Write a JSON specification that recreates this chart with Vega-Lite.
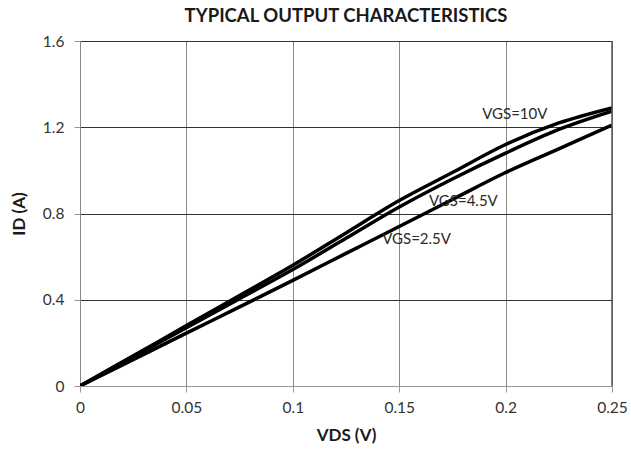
{
  "$schema": "https://vega.github.io/schema/vega-lite/v6.json",
  "width": 532,
  "height": 345,
  "autosize": "none",
  "padding": {"left": 80, "top": 41, "right": 19, "bottom": 75},
  "background": "white",
  "title": {"text": "TYPICAL OUTPUT CHARACTERISTICS", "font": "Lato", "fontSize": 18.5, "fontWeight": "bold", "color": "#1a1a1a", "anchor": "middle", "offset": 9},
  "config": {
    "view": {"stroke": null},
    "axis": {"labelFont": "Lato", "labelFontSize": 15.5, "labelColor": "#333333", "titleFont": "Lato", "titleFontSize": 17, "titleFontWeight": "bold", "titleColor": "#1a1a1a"}
  },
  "datasets": {
    "curves": [
      {"vds": 0, "id": 0, "s": "VGS=10V"},
      {"vds": 0.025, "id": 0.14, "s": "VGS=10V"},
      {"vds": 0.05, "id": 0.28, "s": "VGS=10V"},
      {"vds": 0.075, "id": 0.42, "s": "VGS=10V"},
      {"vds": 0.1, "id": 0.56, "s": "VGS=10V"},
      {"vds": 0.125, "id": 0.71, "s": "VGS=10V"},
      {"vds": 0.15, "id": 0.86, "s": "VGS=10V"},
      {"vds": 0.175, "id": 0.99, "s": "VGS=10V"},
      {"vds": 0.2, "id": 1.12, "s": "VGS=10V"},
      {"vds": 0.225, "id": 1.22, "s": "VGS=10V"},
      {"vds": 0.25, "id": 1.29, "s": "VGS=10V"},
      {"vds": 0, "id": 0, "s": "VGS=4.5V"},
      {"vds": 0.025, "id": 0.135, "s": "VGS=4.5V"},
      {"vds": 0.05, "id": 0.27, "s": "VGS=4.5V"},
      {"vds": 0.075, "id": 0.405, "s": "VGS=4.5V"},
      {"vds": 0.1, "id": 0.54, "s": "VGS=4.5V"},
      {"vds": 0.125, "id": 0.685, "s": "VGS=4.5V"},
      {"vds": 0.15, "id": 0.83, "s": "VGS=4.5V"},
      {"vds": 0.175, "id": 0.96, "s": "VGS=4.5V"},
      {"vds": 0.2, "id": 1.08, "s": "VGS=4.5V"},
      {"vds": 0.225, "id": 1.19, "s": "VGS=4.5V"},
      {"vds": 0.25, "id": 1.275, "s": "VGS=4.5V"},
      {"vds": 0, "id": 0, "s": "VGS=2.5V"},
      {"vds": 0.025, "id": 0.122, "s": "VGS=2.5V"},
      {"vds": 0.05, "id": 0.245, "s": "VGS=2.5V"},
      {"vds": 0.075, "id": 0.367, "s": "VGS=2.5V"},
      {"vds": 0.1, "id": 0.49, "s": "VGS=2.5V"},
      {"vds": 0.125, "id": 0.615, "s": "VGS=2.5V"},
      {"vds": 0.15, "id": 0.74, "s": "VGS=2.5V"},
      {"vds": 0.175, "id": 0.865, "s": "VGS=2.5V"},
      {"vds": 0.2, "id": 0.99, "s": "VGS=2.5V"},
      {"vds": 0.225, "id": 1.1, "s": "VGS=2.5V"},
      {"vds": 0.25, "id": 1.21, "s": "VGS=2.5V"}
    ],
    "labels": [
      {"vds": 0.189, "id": 1.26, "t": "VGS=10V"},
      {"vds": 0.164, "id": 0.86, "t": "VGS=4.5V"},
      {"vds": 0.142, "id": 0.68, "t": "VGS=2.5V"}
    ]
  },
  "layer": [
    {
      "data": {"name": "curves"},
      "mark": {"type": "line", "strokeWidth": 3.5, "interpolate": "monotone", "clip": true},
      "encoding": {
        "x": {
          "field": "vds", "type": "quantitative",
          "scale": {"domain": [0, 0.25], "nice": false, "zero": false},
          "axis": {"title": "VDS (V)", "values": [0, 0.05, 0.1, 0.15, 0.2, 0.25], "format": ".2~f", "grid": true, "gridColor": "#8a8a8a", "gridWidth": 1, "domainColor": "#999999", "domainWidth": 1, "tickColor": "#999999", "tickSize": 6, "labelPadding": 8, "titlePadding": 12, "labelFlush": false}
        },
        "y": {
          "field": "id", "type": "quantitative",
          "scale": {"domain": [0, 1.6], "nice": false},
          "axis": {"title": "ID (A)", "values": [0, 0.4, 0.8, 1.2, 1.6], "format": ".1~f", "grid": true, "gridColor": {"condition": {"test": "datum.value === 0", "value": "#999999"}, "value": "#333333"}, "gridWidth": 1, "domain": false, "tickColor": "#999999", "tickSize": 6, "labelPadding": 10, "titlePadding": 14}
        },
        "detail": {"field": "s"},
        "color": {"value": "#000000"}
      }
    },
    {
      "data": {"name": "labels"},
      "mark": {"type": "text", "align": "left", "baseline": "middle", "font": "Lato", "fontSize": 15, "color": "#2a2a2a"},
      "encoding": {
        "x": {"field": "vds", "type": "quantitative"},
        "y": {"field": "id", "type": "quantitative"},
        "text": {"field": "t"}
      }
    },
    {
      "data": {"values": [{"v": 0.25}]},
      "mark": {"type": "rule", "color": "#555555", "strokeWidth": 1.5},
      "encoding": {"x": {"field": "v", "type": "quantitative"}}
    }
  ]
}
